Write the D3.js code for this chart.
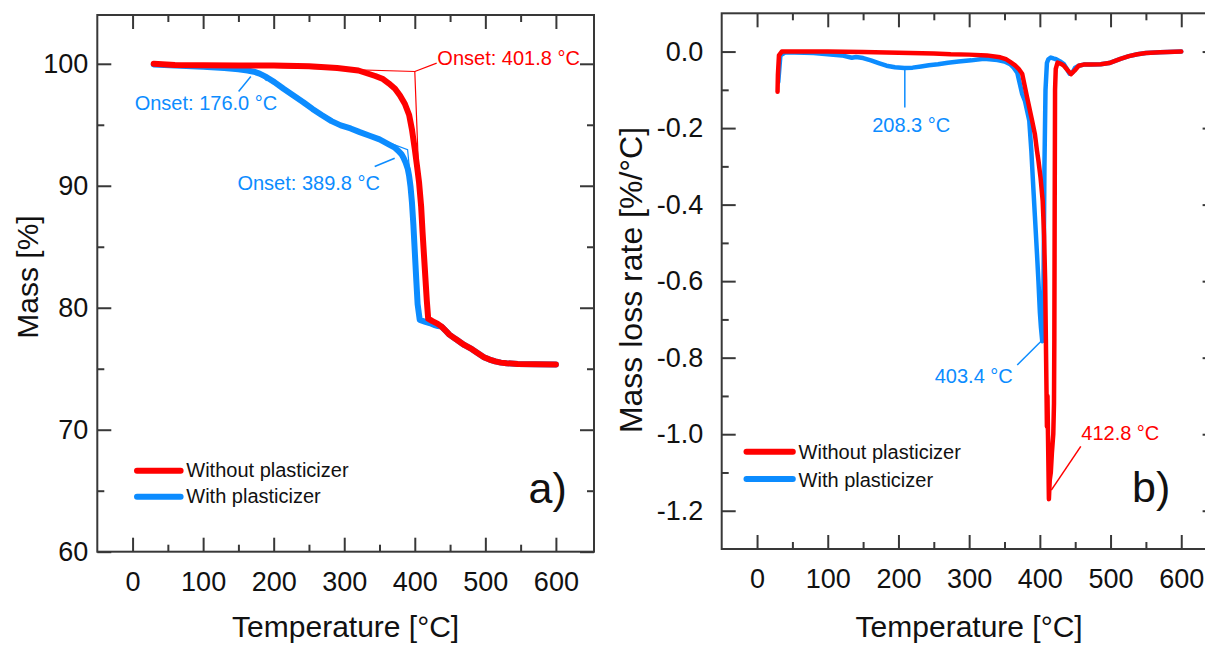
<!DOCTYPE html>
<html><head><meta charset="utf-8">
<script src="https://cdn.jsdelivr.net/npm/d3@7"></script>
<style>
body{margin:0;background:#fff}
svg{display:block}
text{font-family:"Liberation Sans",Arial,Helvetica,sans-serif}
</style>
</head><body>
<svg id="chart" width="1205" height="645"></svg>
<script>
// ---------------- DATA ----------------
// Panel a) TG: mass [%] vs temperature [°C]
const tgRedT = [30,60,100,150,200,250,290,320,344,355,363,372,379,386,392,396,400,403,406,409,411,414,417,419,425,432,438,444,449,455,460,470,481,490,498,506,514,522,530,546,570,600];
const tgRedM = [100.0,99.9,99.88,99.87,99.86,99.8,99.65,99.45,99.0,98.75,98.4,97.95,97.4,96.7,95.8,94.6,93.0,91.7,90.3,88.3,86.2,83.4,80.6,79.1,78.9,78.7,78.45,78.1,77.8,77.55,77.35,76.95,76.6,76.25,75.95,75.75,75.6,75.5,75.45,75.38,75.36,75.35];
const tgBlueT = [30,60,100,130,150,163,172,180,190,201,214,228,242,255,268,282,295,309,322,336,350,363,371,376,381,384,387,390,392,394,396,398,400,402,404,407,415,421,427,433,438,444,449,455,460,470,481,490,498,506,514,522,530,546,570,600];
const tgBlueM = [99.95,99.85,99.75,99.65,99.55,99.45,99.35,99.2,98.9,98.5,97.95,97.4,96.85,96.3,95.8,95.3,94.95,94.7,94.4,94.1,93.8,93.4,93.15,92.9,92.6,92.3,91.9,91.4,90.8,89.9,88.6,86.8,84.6,82.4,80.3,79.0,78.85,78.75,78.6,78.5,78.45,78.1,77.8,77.55,77.35,76.95,76.6,76.25,75.95,75.75,75.6,75.5,75.45,75.38,75.36,75.35];

// Panel b) DTG: mass loss rate [%/°C] vs temperature [°C]
const dtgRedT = [29,29.5,31,35,50,100,150,200,250,274,300,325,344,352,358,365,370,375,382,389,393,396,398,401,404,406,407.5,408.5,409.5,410,410.8,411.5,412.8,414,415.5,417,419,420,420.5,421,421.5,422.5,425,430,434,440,444,449,455,462,472,486,498,514,526,538,550,570,600];
const dtgRedV = [-0.105,-0.06,-0.01,0.0,0.0,0.0,-0.001,-0.003,-0.005,-0.007,-0.008,-0.010,-0.015,-0.02,-0.027,-0.036,-0.045,-0.058,-0.12,-0.18,-0.216,-0.26,-0.285,-0.33,-0.39,-0.48,-0.6,-0.75,-0.9,-0.98,-0.9,-1.0,-1.17,-1.12,-1.1,-1.05,-1.0,-0.92,-0.75,-0.4,-0.1,-0.045,-0.029,-0.032,-0.037,-0.05,-0.059,-0.05,-0.037,-0.034,-0.034,-0.033,-0.03,-0.019,-0.012,-0.007,-0.004,-0.002,0.0];
const dtgBlueT = [30,33,40,80,100,120,134,140,150,161,172,183,195,208.3,220,232,243,256,270,285,303,321,340,350,358,363,368,375,379,385,388,390,393,396,398,400,401.5,403.4,404.5,405.5,406.5,408,410,412,415.4,419,423,428,434,438,442,446,450,455,462,472,486,498,514,526,538,550,570,600];
const dtgBlueV = [-0.08,-0.01,-0.002,-0.004,-0.007,-0.01,-0.016,-0.014,-0.017,-0.023,-0.03,-0.037,-0.041,-0.043,-0.042,-0.039,-0.036,-0.033,-0.029,-0.026,-0.023,-0.019,-0.022,-0.026,-0.033,-0.042,-0.055,-0.111,-0.13,-0.18,-0.26,-0.33,-0.43,-0.53,-0.6,-0.68,-0.72,-0.757,-0.72,-0.55,-0.3,-0.1,-0.03,-0.02,-0.0155,-0.018,-0.02,-0.025,-0.033,-0.045,-0.058,-0.055,-0.042,-0.037,-0.034,-0.034,-0.033,-0.03,-0.019,-0.012,-0.007,-0.004,-0.002,0.0];

// Ticks
const xMajor = [0,100,200,300,400,500,600];
const xMinor = [50,150,250,350,450,550];
const yMajorA = [60,70,80,90,100];
const yMinorA = [65,75,85,95];
const yMajorB = [0,-0.2,-0.4,-0.6,-0.8,-1.0,-1.2];
const yMinorB = [-0.1,-0.3,-0.5,-0.7,-0.9,-1.1];

// Labels / annotations (in data units)
const seriesNames = ["Without plasticizer","With plasticizer"];
const onsetLabels = ["Onset: 401.8 °C","Onset: 176.0 °C","Onset: 389.8 °C"];
const peakLabels = ["208.3 °C","403.4 °C","412.8 °C"];
const tanRed = [[200,99.70],[400,99.37],[407.5,88.0]];
const leadRed = [[400,99.37],[431,100.05]];
const tanBlue1 = [[70,99.75],[176,99.45],[190,98.6]];
const leadBlue1 = [[150.3,97.73],[167.6,98.96]];
const tanBlue2 = [[330,94.25],[389.8,92.95],[396.5,89.0]];
const leadBlue2 = [[343.2,91.58],[371.5,92.26]];
const leadPk1 = [[209,-0.043],[209,-0.146]];
const leadPk2 = [[368,-0.819],[403.5,-0.754]];
const leadPk3 = [[457.9,-1.032],[416.2,-1.146]];

// ---------------- DRAW ----------------
const RED = "#ff0000", BLUE = "#0c8cff", AX = "#383838";
const svg = d3.select("#chart");

const xA = d3.scaleLinear().domain([-50,654]).range([97.3,594]);
const yA = d3.scaleLinear().domain([60,104]).range([551.7,15]);
const xB = d3.scaleLinear().domain([-50,650]).range([721.7,1216.6]);
const yB = d3.scaleLinear().domain([-1.3,0.1]).range([549,13.3]);

function axes(x, y, yMaj, yMin, yFmt, yPad) {
  const g = svg.append("g");
  const [x0,x1] = x.range(), [y0,y1] = y.range();
  const style = s => {
    s.selectAll(".domain").remove();
    s.selectAll("line").attr("stroke", AX).attr("stroke-width", 2);
    s.attr("font-family", '"Liberation Sans",Arial,sans-serif').attr("font-size", 27);
    s.selectAll("text").attr("fill", "#111");
  };
  g.append("g").attr("transform",`translate(0,${y0})`)
    .call(d3.axisBottom(x).tickValues(xMajor).tickSize(-14).tickPadding(20).tickFormat(d3.format("d"))).call(style);
  g.append("g").attr("transform",`translate(0,${y0})`)
    .call(d3.axisBottom(x).tickValues(xMinor).tickSize(-7).tickFormat("")).call(style);
  g.append("g").attr("transform",`translate(0,${y1})`)
    .call(d3.axisTop(x).tickValues(xMajor).tickSize(-14).tickFormat("")).call(style);
  g.append("g").attr("transform",`translate(0,${y1})`)
    .call(d3.axisTop(x).tickValues(xMinor).tickSize(-7).tickFormat("")).call(style);
  g.append("g").attr("transform",`translate(${x0},0)`)
    .call(d3.axisLeft(y).tickValues(yMaj).tickSize(-14).tickPadding(yPad).tickFormat(yFmt)).call(style);
  g.append("g").attr("transform",`translate(${x0},0)`)
    .call(d3.axisLeft(y).tickValues(yMin).tickSize(-7).tickFormat("")).call(style);
  g.append("g").attr("transform",`translate(${x1},0)`)
    .call(d3.axisRight(y).tickValues(yMaj).tickSize(-14).tickFormat("")).call(style);
  g.append("g").attr("transform",`translate(${x1},0)`)
    .call(d3.axisRight(y).tickValues(yMin).tickSize(-7).tickFormat("")).call(style);
  g.append("rect").attr("x",x0).attr("y",y1).attr("width",x1-x0).attr("height",y0-y1)
    .attr("fill","none").attr("stroke",AX).attr("stroke-width",2);
}

function curve(g, x, y, T, V, color, w) {
  const line = d3.line().x((d,i)=>x(T[i])).y((d,i)=>y(V[i]));
  g.append("path").attr("d", line(T)).attr("fill","none").attr("stroke",color)
    .attr("stroke-width",w).attr("stroke-linejoin","round").attr("stroke-linecap","round");
}
function thin(g, x, y, pts, color, w) {
  g.append("path").attr("d", d3.line().x(d=>x(d[0])).y(d=>y(d[1]))(pts))
    .attr("fill","none").attr("stroke",color).attr("stroke-width",w||1.2);
}
function label(g, px, py, txt, color, size, anchor) {
  g.append("text").attr("x",px).attr("y",py).attr("fill",color).attr("font-size",size)
    .attr("text-anchor",anchor||"start").text(txt);
}

// ---- Panel a ----
const ga = svg.append("g");
svg.append("clipPath").attr("id","ca").append("rect")
  .attr("x",97.3).attr("y",15).attr("width",594-97.3).attr("height",551.7-15);
const pa = ga.append("g").attr("clip-path","url(#ca)");
thin(pa, xA, yA, tanBlue1, BLUE);
thin(pa, xA, yA, tanBlue2, BLUE);
thin(pa, xA, yA, tanRed, RED);
curve(pa, xA, yA, tgBlueT, tgBlueM, BLUE, 6);
curve(pa, xA, yA, tgRedT, tgRedM, RED, 6);
thin(pa, xA, yA, leadRed, RED);
thin(pa, xA, yA, leadBlue1, BLUE, 1.5);
thin(pa, xA, yA, leadBlue2, BLUE, 1.5);
label(ga, xA(432), yA(99.9), onsetLabels[0], RED, 20);
label(ga, xA(3), yA(96.2), onsetLabels[1], BLUE, 20);
label(ga, xA(148.6), yA(89.66), onsetLabels[2], BLUE, 20);
axes(xA, yA, yMajorA, yMinorA, d=>String(d), 9);

// legend a
[[RED,0],[BLUE,1]].forEach(([c,i])=>{
  const ly = 470.7 + i*26;
  ga.append("line").attr("x1",137).attr("x2",180.6).attr("y1",ly).attr("y2",ly)
    .attr("stroke",c).attr("stroke-width",6).attr("stroke-linecap","round");
  label(ga, 186.3, ly+6.6, seriesNames[i], "#111", 20);
});
label(ga, 528.5, 503, "a)", "#111", 43);

// ---- Panel b ----
const gb = svg.append("g");
svg.append("clipPath").attr("id","cb").append("rect")
  .attr("x",721.7).attr("y",13.3).attr("width",1216.6-721.7).attr("height",549-13.3);
const pb = gb.append("g").attr("clip-path","url(#cb)");
curve(pb, xB, yB, dtgBlueT, dtgBlueV, BLUE, 4.5);
curve(pb, xB, yB, dtgRedT, dtgRedV, RED, 4.5);
thin(pb, xB, yB, leadPk1, BLUE, 1.5);
thin(pb, xB, yB, leadPk2, BLUE, 1.5);
thin(pb, xB, yB, leadPk3, RED, 1.5);
label(gb, xB(218), yB(-0.209), peakLabels[0], BLUE, 20, "middle");
label(gb, xB(361.7), yB(-0.867), peakLabels[1], BLUE, 20, "end");
label(gb, xB(458.6), yB(-1.015), peakLabels[2], RED, 20);
axes(xB, yB, yMajorB, yMinorB, d=>d.toFixed(1), 18.5);

[[RED,0],[BLUE,1]].forEach(([c,i])=>{
  const ly = 451.7 + i*27.3;
  gb.append("line").attr("x1",746.5).attr("x2",792.8).attr("y1",ly).attr("y2",ly)
    .attr("stroke",c).attr("stroke-width",6).attr("stroke-linecap","round");
  label(gb, 798.6, ly+7.6, seriesNames[i], "#111", 20);
});
label(gb, 1132, 502, "b)", "#111", 43);

// ---- Axis titles ----
label(svg, (97.3+594)/2, 637, "Temperature [°C]", "#111", 30, "middle");
label(svg, (721.7+1216.6)/2, 637, "Temperature [°C]", "#111", 30, "middle");
svg.append("text").attr("transform",`translate(38,277) rotate(-90)`)
  .attr("text-anchor","middle").attr("font-size",30).attr("fill","#111").text("Mass [%]");
svg.append("text").attr("transform",`translate(642,280) rotate(-90)`)
  .attr("text-anchor","middle").attr("font-size",32).attr("fill","#111").text("Mass loss rate [%/°C]");
</script>
</body></html>
